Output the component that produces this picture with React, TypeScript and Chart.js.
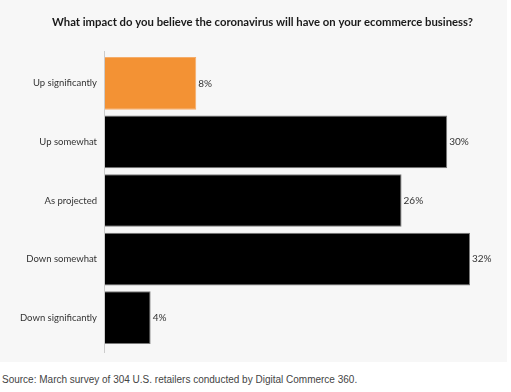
import React, { useEffect, useRef } from "react";
import { Chart, registerables } from "chart.js";

Chart.register(...registerables);

const TITLE = "What impact do you believe the coronavirus will have on your ecommerce business?";
const SOURCE = "Source: March survey of 304 U.S. retailers conducted by Digital Commerce 360.";
const categories = ["Up significantly", "Up somewhat", "As projected", "Down somewhat", "Down significantly"];
const values = [8, 30, 26, 32, 4];
const barColors = ["#f39234", "#000000", "#000000", "#000000", "#000000"];
const barBorders = ["#f5ad6a", "#7a7a7a", "#7a7a7a", "#7a7a7a", "#7a7a7a"];

const valueLabels = {
  id: "valueLabels",
  afterDatasetsDraw(chart: any) {
    const ctx = chart.ctx;
    const meta = chart.getDatasetMeta(0);
    ctx.save();
    ctx.font = "10px Lato";
    ctx.fillStyle = "#333333";
    ctx.textAlign = "left";
    ctx.textBaseline = "middle";
    meta.data.forEach((bar: any, i: number) => {
      ctx.fillText(values[i] + "%", bar.x + 2, bar.y);
    });
    ctx.restore();
  },
};

const titlePlugin = {
  id: "customTitle",
  afterDraw(chart: any) {
    const ctx = chart.ctx;
    ctx.save();
    ctx.font = "bold 11.3px Lato";
    ctx.fillStyle = "#1a1a1a";
    ctx.textAlign = "center";
    ctx.textBaseline = "middle";
    ctx.fillText(TITLE, 262.5, 22);
    ctx.restore();
  },
};

const axisLine = {
  id: "axisLine",
  beforeDatasetsDraw(chart: any) {
    const { ctx, chartArea } = chart;
    ctx.save();
    ctx.strokeStyle = "#cccccc";
    ctx.lineWidth = 1;
    ctx.beginPath();
    ctx.moveTo(chartArea.left - 0.5, chartArea.top - 3);
    ctx.lineTo(chartArea.left - 0.5, chartArea.bottom + 6);
    ctx.stroke();
    ctx.restore();
  },
};

export default function App() {
  const ref = useRef<HTMLCanvasElement>(null);
  useEffect(() => {
    if (!ref.current) return;
    const chart = new Chart(ref.current, {
      type: "bar",
      data: {
        labels: categories,
        datasets: [
          {
            data: values,
            backgroundColor: barColors,
            borderColor: barBorders,
            borderWidth: 1,
            categoryPercentage: 1,
            barPercentage: 0.9,
          },
        ],
      },
      options: {
        indexAxis: "y",
        animation: false,
        responsive: false,
        devicePixelRatio: 1,
        layout: { padding: { top: 54, right: 37, bottom: 15, left: 0 } },
        plugins: {
          legend: { display: false },
          tooltip: { enabled: false },
          title: { display: false },
        },
        scales: {
          x: { display: false, min: 0, max: 32 },
          y: {
            grid: { display: false, drawTicks: false },
            border: { display: false },
            ticks: { color: "#333333", font: { family: "Lato", size: 9.5 }, padding: 8 },
            afterFit: (s: any) => {
              s.width = 105;
            },
          },
        },
      },
      plugins: [valueLabels, axisLine, titlePlugin],
    });
    return () => chart.destroy();
  }, []);
  return (
    <div style={{ position: "absolute", left: 0, top: 0, width: 511, height: 392, background: "#ffffff" }}>
      <div style={{ position: "absolute", left: 0, top: 0, width: 507, height: 362, background: "#f7f7f7" }}>
        <canvas ref={ref} width={507} height={362} style={{ display: "block" }} />
      </div>
      <div
        style={{
          position: "absolute",
          left: 2,
          top: 374,
          fontFamily: "'Liberation Sans', Arial, sans-serif",
          fontSize: 10,
          color: "#444444",
          whiteSpace: "nowrap",
        }}
      >
        {SOURCE}
      </div>
    </div>
  );
}
